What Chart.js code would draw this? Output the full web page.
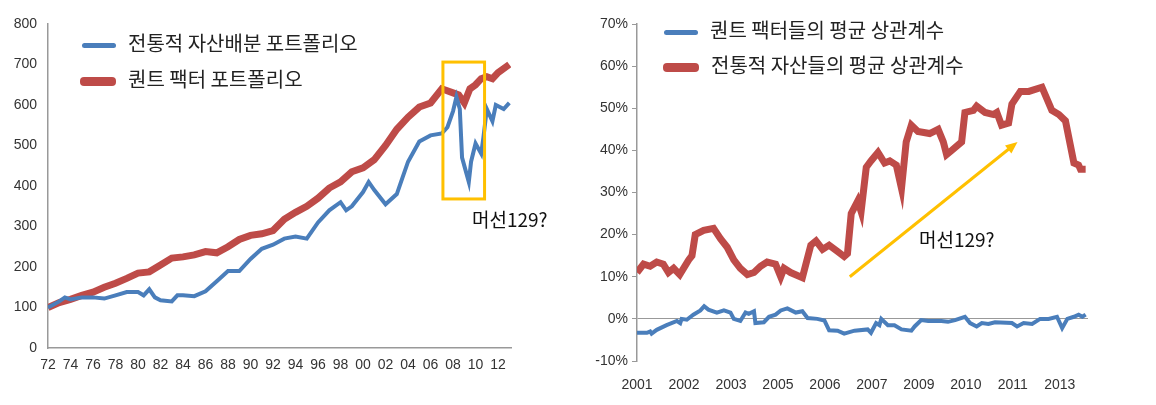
<!DOCTYPE html>
<html><head><meta charset="utf-8">
<script src="https://cdn.jsdelivr.net/npm/chart.js@4"></script>
<style>
body{margin:0;width:1156px;height:405px;background:#fff;overflow:hidden;font-family:"Noto Sans CJK KR",sans-serif}
.box{position:absolute;top:0;height:405px}
.lg{position:absolute;font-size:20px;color:#222;white-space:nowrap}
.sw{display:inline-block;vertical-align:middle;margin-right:12px;border-radius:4px}
.note{position:absolute;font-size:19px;color:#111}
</style></head><body>
<div class="box" style="left:0;width:580px"><canvas id="left" width="580" height="405"></canvas></div>
<div class="box" style="left:580px;width:576px"><canvas id="right" width="576" height="405"></canvas></div>
<div class="lg" style="left:82px;top:28px"><span class="sw" style="width:34px;height:5px;background:#4a7ebb"></span>전통적 자산배분 포트폴리오</div>
<div class="lg" style="left:80px;top:64px"><span class="sw" style="width:36px;height:9px;background:#be4b48"></span>퀀트 팩터 포트폴리오</div>
<div class="note" style="left:472px;top:205px">머선129?</div>
<div class="lg" style="left:664px;top:15px"><span class="sw" style="width:34px;height:5px;background:#4a7ebb"></span>퀀트 팩터들의 평균 상관계수</div>
<div class="lg" style="left:663px;top:50px"><span class="sw" style="width:36px;height:9px;background:#be4b48"></span>전통적 자산들의 평균 상관계수</div>
<div class="note" style="left:919px;top:225px">머선129?</div>
<script>
// left chart: portfolio index (x = year)
const quantYears = [1972,1973,1974,1975,1976,1977,1978,1979,1980,1981,1982,1983,1984,1985,1986,1987,1988,1989,1990,1991,1992,1993,1994,1995,1996,1997,1998,1999,2000,2001,2002,2003,2004,2005,2006,2007,2008,2008.5,2009,2009.5,2010,2010.5,2011,2011.5,2012,2013];
const quantValues = [100,112,120,130,138,150,160,172,185,188,205,222,225,230,238,235,250,268,278,282,290,318,335,350,370,395,410,435,445,465,500,540,570,595,605,640,630,625,605,640,650,665,670,665,680,700];
const tradYears = [1972,1973,1973.5,1974,1975,1976,1977,1978,1979,1980,1980.5,1981,1981.5,1982,1983,1983.5,1984,1985,1986,1987,1988,1989,1990,1991,1992,1993,1994,1995,1996,1997,1998,1998.5,1999,2000,2000.5,2001,2002,2003,2003.5,2004,2005,2006,2007,2007.5,2008,2008.3,2008.6,2008.8,2009.2,2009.4,2009.6,2010,2010.5,2010.7,2011,2011.5,2011.8,2012.5,2013];
const tradValues = [100,115,125,120,125,125,122,130,138,138,130,145,125,118,115,130,130,128,140,165,190,190,220,245,255,270,275,270,310,340,360,340,350,385,410,390,355,380,420,460,510,525,530,545,585,620,590,470,430,410,460,505,480,520,590,560,600,590,605];
const leftTicks = [1972,1974,1976,1978,1980,1982,1984,1986,1988,1990,1992,1994,1996,1998,2000,2002,2004,2006,2008,2010,2012];

// right chart: average correlation (x = position on date axis)
const dateLabels = ['2001','2002','2003','2005','2006','2007','2009','2010','2011','2013'];
const corrTradX = [0,0.14,0.28,0.42,0.56,0.67,0.78,0.91,1.10,1.17,1.24,1.42,1.63,1.78,1.92,2.06,2.20,2.35,2.49,2.63,2.77,2.95,3.06,3.13,3.27,3.52,3.70,3.81,3.95,4.09,4.27,4.41,4.48,4.56,4.70,4.77,4.88,4.98,5.13,5.27,5.38,5.52,5.63,5.73,5.84,5.98,6.23,6.41,6.52,6.59,6.70,6.91,6.98,7.16,7.23,7.41,7.59,7.66,7.76,7.91,7.98,8.16,8.34,8.62,8.83,8.98,9.12,9.30,9.40,9.44,9.55];
const corrTrad = [11,13,12.5,13.5,13,11,12,10.5,14,15,20,21,21.5,19,17,14,12,10.5,11,12.5,13.5,13,10,12,11,9.8,17.5,18.5,16.5,17.5,16,14.8,15.5,25,28,25.5,36,37.5,39.5,37,37.5,36.5,31,42,46,44.5,44,45,42,39,40,42,49,49.5,50.5,49,48.5,49,46,46.5,51,54,54,55,49.5,48.5,47,37,36.5,35.5,35.5];
const corrQuantX = [0,0.21,0.28,0.31,0.42,0.63,0.85,0.92,0.95,1.06,1.2,1.35,1.43,1.52,1.7,1.85,1.99,2.06,2.2,2.31,2.38,2.49,2.52,2.7,2.81,2.95,3.06,3.2,3.38,3.52,3.63,3.84,3.99,4.09,4.27,4.41,4.63,4.91,4.98,5.09,5.16,5.2,5.34,5.48,5.63,5.84,5.91,6.05,6.2,6.48,6.62,6.77,6.98,7.09,7.23,7.34,7.48,7.62,7.98,8.09,8.23,8.41,8.58,8.76,8.94,9.05,9.16,9.3,9.4,9.48,9.55];
const corrQuant = [-3.3,-3.3,-3,-3.5,-2.6,-1.5,-0.5,-1,0,-0.2,1,2,3,2.2,1.5,2,1.5,0,-0.5,1.5,1.2,1.8,-1,-0.8,0.5,1,2,2.5,1.5,1.8,0.2,0,-0.4,-2.7,-2.8,-3.5,-2.8,-2.5,-3.3,-1,-1.5,0,-1.5,-1.5,-2.5,-2.8,-1.8,-0.3,-0.5,-0.5,-0.7,-0.3,0.5,-1,-1.8,-1,-1.2,-0.8,-1,-1.8,-1,-1.2,0,0,0.5,-2.2,0,0.5,1,0.5,1];

const pts = (xs, ys) => xs.map((x, i) => ({x: x, y: ys[i]}));
const tickFont = {family: "'Liberation Sans Narrow','Liberation Sans',Arial", size: 14};
const axisCol = '#999';

const boxPlugin = {
  id: 'box',
  afterDatasetsDraw(c) {
    const x = c.scales.x, y = c.scales.y, ctx = c.ctx;
    ctx.save();
    ctx.strokeStyle = '#ffc000'; ctx.lineWidth = 3;
    const l = x.getPixelForValue(2007.1), r = x.getPixelForValue(2010.8);
    const t = y.getPixelForValue(706), b = y.getPixelForValue(368);
    ctx.strokeRect(l, t, r - l, b - t);
    ctx.restore();
  }
};
const arrowPlugin = {
  id: 'arrow',
  afterDatasetsDraw(c) {
    const x = c.scales.x, y = c.scales.y, ctx = c.ctx;
    const x0 = x.getPixelForValue(4.53), y0 = y.getPixelForValue(10);
    const x1 = x.getPixelForValue(8.1), y1 = y.getPixelForValue(42);
    const a = Math.atan2(y1 - y0, x1 - x0);
    ctx.save();
    ctx.strokeStyle = ctx.fillStyle = '#ffc000'; ctx.lineWidth = 3;
    ctx.beginPath(); ctx.moveTo(x0, y0); ctx.lineTo(x1 - 8 * Math.cos(a), y1 - 8 * Math.sin(a)); ctx.stroke();
    ctx.beginPath(); ctx.moveTo(x1, y1);
    ctx.lineTo(x1 - 13 * Math.cos(a - 0.4), y1 - 13 * Math.sin(a - 0.4));
    ctx.lineTo(x1 - 13 * Math.cos(a + 0.4), y1 - 13 * Math.sin(a + 0.4));
    ctx.closePath(); ctx.fill();
    ctx.restore();
  }
};

new Chart(document.getElementById('left'), {
  type: 'line',
  data: {datasets: [
    {data: pts(tradYears, tradValues), borderColor: '#4a7ebb', borderWidth: 4, pointRadius: 0, tension: 0, order: 1},
    {data: pts(quantYears, quantValues), borderColor: '#be4b48', borderWidth: 7, pointRadius: 0, tension: 0, order: 2}
  ]},
  options: {
    responsive: false, animation: false,
    layout: {padding: {top: 24, right: 69, bottom: 28, left: 0}},
    plugins: {legend: {display: false}, tooltip: {enabled: false}},
    scales: {
      x: {type: 'linear', min: 1972, max: 2013.15,
        afterBuildTicks: s => { s.ticks = leftTicks.map(v => ({value: v})); },
        afterFit: s => { s.height = 29; },
        grid: {display: false, drawTicks: true, tickLength: 5, tickColor: axisCol},
        border: {color: axisCol, width: 1.5},
        ticks: {color: '#333', font: tickFont, maxRotation: 0, autoSkip: false, padding: 4,
          callback: v => String(v).slice(2)}},
      y: {min: 0, max: 800,
        afterFit: s => { s.width = 48; },
        grid: {display: false, drawTicks: true, tickLength: 5, tickColor: axisCol},
        border: {color: axisCol, width: 1.5},
        ticks: {stepSize: 100, color: '#333', font: tickFont, padding: 6}}
    }
  },
  plugins: [boxPlugin]
});

new Chart(document.getElementById('right'), {
  type: 'line',
  data: {datasets: [
    {data: pts(corrQuantX, corrQuant), borderColor: '#4a7ebb', borderWidth: 4, pointRadius: 0, tension: 0},
    {data: pts(corrTradX, corrTrad), borderColor: '#be4b48', borderWidth: 7, pointRadius: 0, tension: 0}
  ]},
  options: {
    responsive: false, animation: false,
    layout: {padding: {top: 24, right: 68, bottom: 15, left: 0}},
    plugins: {legend: {display: false}, tooltip: {enabled: false}},
    scales: {
      x: {type: 'linear', min: 0, max: 9.6,
        afterBuildTicks: s => { s.ticks = dateLabels.map((l, i) => ({value: i})); },
        afterFit: s => { s.height = 29; },
        grid: {display: false},
        border: {display: false},
        ticks: {color: '#333', font: tickFont, maxRotation: 0, autoSkip: false, padding: 8,
          callback: v => dateLabels[v]}},
      y: {min: -10, max: 70,
        afterFit: s => { s.width = 57; },
        grid: {drawOnChartArea: true, drawTicks: true, tickLength: 5,
          color: ctx => ctx.tick && ctx.tick.value === 0 ? axisCol : 'rgba(0,0,0,0)',
          tickColor: axisCol},
        border: {color: axisCol, width: 1.5},
        ticks: {stepSize: 10, color: '#333', font: tickFont, padding: 4, callback: v => v + '%'}}
    }
  },
  plugins: [arrowPlugin]
});
</script>
</body></html>
